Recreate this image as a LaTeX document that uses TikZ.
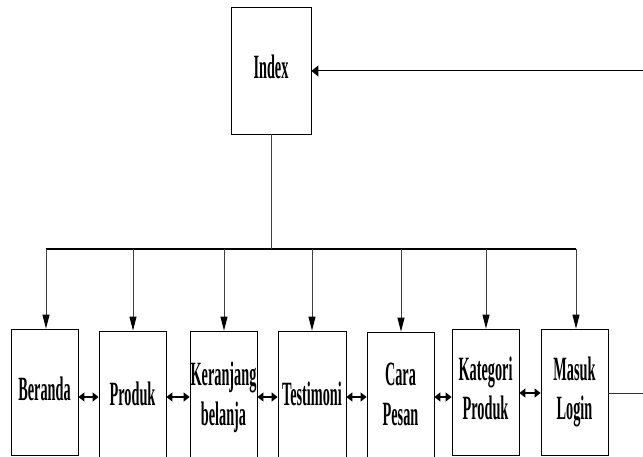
\documentclass[tikz,border=0pt]{standalone}
\usepackage{fontspec}
\setmainfont{Liberation Serif}
\usetikzlibrary{arrows.meta}
\newcommand\narrowlbl[1]{\scalebox{0.42}[1]{\begin{tabular}{@{}c@{}}#1\end{tabular}}}
\begin{document}
\begin{tikzpicture}[x=1pt,y=-1pt,
  menubox/.style={draw=black,line width=0.8pt,inner sep=0pt,minimum width=67pt,
    font=\bfseries\fontsize{34}{40}\selectfont},
  link/.style={line width=0.9pt,draw=black!75},
  down/.style={link,-{Triangle[length=14pt,width=7pt,color=black]}},
  both/.style={line width=1.4pt,{Triangle[length=6pt,width=9pt]}-{Triangle[length=6pt,width=9pt]}},
  back/.style={line width=1pt,-{Triangle[length=7pt,width=11pt]}}]
\useasboundingbox (0,0) rectangle (643,457);
\clip (0,0) rectangle (643,457);

% top page
\node[menubox,minimum width=80pt,minimum height=127pt] (index) at (271,70.5) {\narrowlbl{Index}};

% menu pages
\node[menubox,minimum height=126pt] (beranda)   at (44.5,392)  {\narrowlbl{Beranda}};
\node[menubox,minimum height=132pt] (produk)    at (132.5,397) {\narrowlbl{Produk}};
\node[menubox,minimum height=132pt] (keranjang) at (223.5,397) {\narrowlbl{Keranjang\\belanja}};
\node[menubox,minimum width=68pt,minimum height=132pt] (testimoni) at (312,397) {\narrowlbl{Testimoni}};
\node[menubox,minimum height=130pt] (cara)      at (400.5,397) {\narrowlbl{Cara\\Pesan}};
\node[menubox,minimum height=126pt] (kategori)  at (485.5,392) {\narrowlbl{Kategori\\Produk}};
\node[menubox,minimum height=126pt] (masuk)     at (574.5,392) {\narrowlbl{Masuk\\Login}};

% distribution bus
\coordinate (busL) at (46,249);
\coordinate (busR) at (576,249);
\draw[line width=1.3pt] (busL) -- (busR);
\draw[link] (index.south) -- (index.south |- busL);
\foreach \n/\x in {beranda/46,produk/133,keranjang/224,testimoni/312,cara/401,kategori/486,masuk/576}
  \draw[down] (\x,249) -- (\x,0 |- \n.north);

% links between neighbouring pages
\draw[both] (beranda.east |- 0,397)   -- (produk.west |- 0,397);
\draw[both] (produk.east |- 0,397)    -- (keranjang.west |- 0,397);
\draw[both] (keranjang.east |- 0,397) -- (testimoni.west |- 0,397);
\draw[both] (testimoni.east |- 0,397) -- (cara.west |- 0,397);
\draw[both] (cara.east |- 0,397)      -- (kategori.west |- 0,397);
\draw[both] (kategori.east |- 0,393)  -- (masuk.west |- 0,393);

% return path from login back to index
\coordinate (retTop) at (643,71);
\coordinate (retBot) at (643,393);
\draw[line width=1pt,draw=black!80] (masuk.east |- retBot) -- (retBot);
\draw[back] (retTop) -- (index.east |- retTop);
\end{tikzpicture}
\end{document}
